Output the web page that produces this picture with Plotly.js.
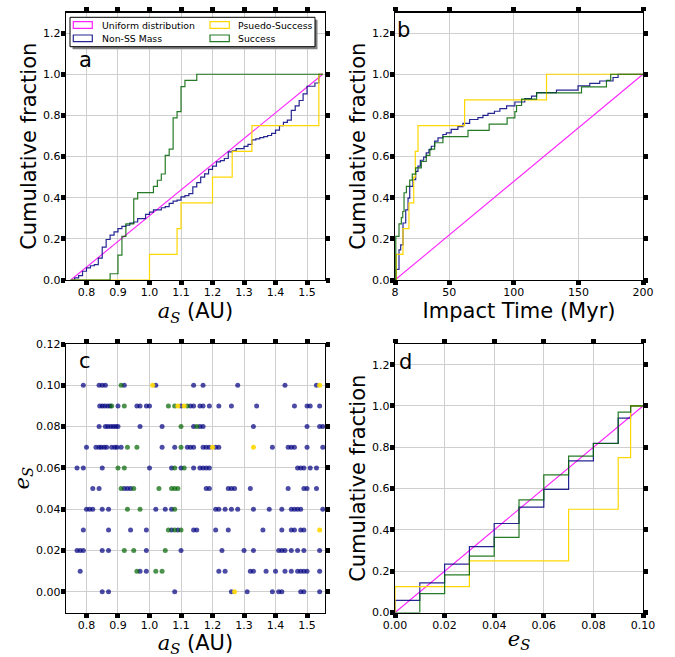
<!DOCTYPE html>
<html>
<head>
<meta charset="utf-8">
<script src="https://cdn.plot.ly/plotly-3.0.1.min.js"></script>
<style>html,body{margin:0;padding:0;background:#fff;}#chart{width:675px;height:657px;}</style>
</head>
<body>
<div id="chart"></div>
<script>
// ---------- DATA ----------
const seriesNames = ["Uniform distribution", "Non-SS Mass", "Psuedo-Success", "Success"];
const panelLabels = ["a", "b", "c", "d"];

// eccentricity rows of panel c (top to bottom)
const eLevels = [0.10, 0.09, 0.08, 0.07, 0.06, 0.05, 0.04, 0.03, 0.02, 0.01, 0.00];

// semi-major axis a_S of points in each eccentricity row
const nonssRows = [
  [0.79, 0.84, 0.85, 0.86, 0.92, 1.02, 1.14, 1.17, 1.28, 1.43, 1.53],
  [0.842, 0.85, 0.858, 0.867, 0.875, 0.90, 0.96, 0.97, 0.99, 1.00, 1.10, 1.13, 1.14, 1.16, 1.17, 1.19, 1.22, 1.26, 1.34, 1.46, 1.50, 1.51, 1.54],
  [0.84, 0.86, 0.868, 0.877, 0.885, 0.893, 0.90, 0.97, 1.04, 1.14, 1.16, 1.17, 1.33, 1.50, 1.54, 1.55],
  [0.80, 0.83, 0.84, 0.847, 0.856, 0.864, 0.88, 0.89, 0.897, 0.91, 1.04, 1.08, 1.12, 1.13, 1.14, 1.17, 1.18, 1.19, 1.21, 1.22, 1.39, 1.44, 1.45, 1.46, 1.50, 1.55],
  [0.77, 0.79, 0.85, 1.00, 1.07, 1.10, 1.14, 1.16, 1.17, 1.18, 1.19, 1.47, 1.48, 1.49, 1.51, 1.53],
  [0.82, 0.84, 0.92, 0.93, 0.94, 1.18, 1.19, 1.25, 1.26, 1.27, 1.32, 1.44, 1.49, 1.50, 1.53],
  [0.80, 0.81, 0.82, 0.85, 0.87, 1.02, 1.05, 1.07, 1.21, 1.22, 1.24, 1.26, 1.28, 1.33, 1.38, 1.42, 1.45, 1.46, 1.47, 1.48, 1.55],
  [0.79, 0.87, 0.94, 0.99, 1.07, 1.09, 1.14, 1.15, 1.21, 1.25, 1.36, 1.42, 1.45, 1.46, 1.48, 1.49],
  [0.77, 0.78, 0.79, 0.85, 0.87, 0.99, 1.10, 1.23, 1.30, 1.33, 1.41, 1.42, 1.43, 1.45, 1.47, 1.49, 1.54],
  [0.78, 0.97, 0.99, 1.22, 1.24, 1.32, 1.33, 1.37, 1.40, 1.43, 1.45, 1.47, 1.48, 1.49, 1.50, 1.54],
  [0.85, 0.87, 1.08, 1.26, 1.31, 1.39, 1.41, 1.42, 1.48, 1.49, 1.54]
];
const pseudoRows = [
  [1.01, 1.54],
  [1.09, 1.11],
  [],
  [1.20, 1.33],
  [], [], [],
  [1.54],
  [], [],
  [1.27]
];
const successRows = [
  [0.91],
  [0.88, 0.92, 1.06, 1.08, 1.12],
  [1.10, 1.15],
  [0.93, 0.96, 1.10],
  [0.90, 0.92, 1.08, 1.11],
  [0.91, 0.95, 1.03, 1.07, 1.08, 1.09],
  [0.93, 0.97, 1.08],
  [1.06, 1.08, 1.10],
  [0.92, 0.95, 1.05],
  [0.96, 1.02, 1.04],
  []
];

// panel b: cumulative fraction of impact times (Myr), read as steps
const timeNonssX = [8, 9.0, 11.1, 12.4, 14.2, 16.3, 18.1, 19.4, 21.9, 24.0, 25.8, 27.6, 30.2, 32.2, 34.3, 36.1, 38.7, 41.3, 45.1, 47.7, 51.5, 56.7, 60.6, 65.8, 72.2, 76.1, 80, 85, 89.2, 94.4, 100.8, 108.5, 113.7, 117.6, 133, 149.7, 158.8, 166.5, 176.8, 180.7, 200];
const timeNonssY = [0, 0.052, 0.146, 0.171, 0.277, 0.341, 0.398, 0.455, 0.488, 0.528, 0.553, 0.582, 0.597, 0.618, 0.634, 0.650, 0.675, 0.691, 0.707, 0.715, 0.732, 0.745, 0.761, 0.780, 0.789, 0.80, 0.81, 0.82, 0.833, 0.846, 0.865, 0.881, 0.894, 0.911, 0.923, 0.943, 0.956, 0.967, 0.984, 1.0, 1.0];
const timePseudoX = [8, 9.0, 14.2, 18.8, 22.5, 23.7, 25.8, 61.9, 125.3, 200];
const timePseudoY = [0, 0.125, 0.25, 0.375, 0.5, 0.625, 0.75, 0.875, 1.0, 1.0];
const timeSuccessX = [8, 8.6, 11.1, 12.9, 14.0, 15.0, 16.8, 19.4, 21.4, 24.0, 28.4, 32.2, 35.0, 38.7, 45.1, 64.5, 80.9, 94.8, 100.8, 102.1, 106.0, 117.6, 152.4, 171.7, 175.0, 200];
const timeSuccessY = [0, 0.212, 0.273, 0.303, 0.333, 0.424, 0.455, 0.485, 0.515, 0.545, 0.576, 0.606, 0.636, 0.667, 0.697, 0.727, 0.758, 0.788, 0.818, 0.848, 0.879, 0.909, 0.939, 0.970, 1.0, 1.0];

// uniform distributions (end points)
const uniformAX = [0.75, 1.55];
const uniformTX = [8, 200];
const uniformEX = [0.0, 0.1];
const uniformY = [0, 1];

// histogram binning used for cumulative steps
const aBins = {start: 0.75, width: 0.0125, n: 64};
const eBins = {start: 0.0, width: 0.005, n: 20};

// ---------- HELPERS ----------
function flatten(rows) {
  const a = [], e = [];
  rows.forEach((r, i) => r.forEach(v => { a.push(v); e.push(eLevels[i]); }));
  return {a, e};
}
function cumStep(values, b) {
  const counts = new Array(b.n).fill(0);
  values.forEach(v => {
    let k = Math.floor((v - b.start) / b.width + 1e-6);
    if (k < 0) k = 0; if (k >= b.n) k = b.n - 1;
    counts[k]++;
  });
  const x = [b.start], y = [0];
  let c = 0;
  for (let i = 0; i < b.n; i++) { c += counts[i]; x.push(b.start + i * b.width); y.push(c / values.length); }
  x.push(b.start + b.n * b.width); y.push(c / values.length);
  return {x, y};
}

const nonss = flatten(nonssRows), pseudo = flatten(pseudoRows), success = flatten(successRows);

const colors = {
  uniform: "#ff22ff",
  nonss: "rgba(0,0,128,0.85)",
  pseudo: "#ffd700",
  success: "rgba(0,100,0,0.85)"
};
const dotColors = {
  nonss: "rgba(0,0,128,0.7)",
  pseudo: "rgba(255,215,0,0.9)",
  success: "rgba(0,100,0,0.7)"
};
const LW = 1.2;

function line(x, y, color, xa, ya, shape, w) {
  return {type: "scatter", mode: "lines", x: x, y: y, xaxis: xa, yaxis: ya,
    line: {color: color, width: w || LW, shape: shape || "linear"}, hoverinfo: "skip", showlegend: false};
}

const traces = [];
// panel a
let s;
traces.push(line(uniformAX, uniformY, colors.uniform, "x", "y", "linear", 1.1));
s = cumStep(nonss.a, aBins); traces.push(line(s.x, s.y, colors.nonss, "x", "y", "hv"));
s = cumStep(pseudo.a, aBins); traces.push(line(s.x, s.y, colors.pseudo, "x", "y", "hv"));
s = cumStep(success.a, aBins); traces.push(line(s.x, s.y, colors.success, "x", "y", "hv"));
// panel b
traces.push(line(uniformTX, uniformY, colors.uniform, "x2", "y2", "linear", 1.1));
traces.push(line(timeNonssX, timeNonssY, colors.nonss, "x2", "y2", "hv"));
traces.push(line(timePseudoX, timePseudoY, colors.pseudo, "x2", "y2", "hv"));
traces.push(line(timeSuccessX, timeSuccessY, colors.success, "x2", "y2", "hv"));
// panel c
function dots(d, color) {
  return {type: "scatter", mode: "markers", x: d.a, y: d.e, xaxis: "x3", yaxis: "y3",
    marker: {color: color, size: 5, line: {width: 0}}, hoverinfo: "skip", showlegend: false};
}
traces.push(dots(nonss, dotColors.nonss));
traces.push(dots(success, dotColors.success));
traces.push(dots(pseudo, dotColors.pseudo));
// panel d
traces.push(line(uniformEX, uniformY, colors.uniform, "x4", "y4", "linear", 1.1));
s = cumStep(nonss.e, eBins); traces.push(line(s.x, s.y, colors.nonss, "x4", "y4", "hv"));
s = cumStep(pseudo.e, eBins); traces.push(line(s.x, s.y, colors.pseudo, "x4", "y4", "hv"));
s = cumStep(success.e, eBins); traces.push(line(s.x, s.y, colors.success, "x4", "y4", "hv"));

// ---------- LAYOUT ----------
const W = 675, H = 657;
const px = v => v / W, py = v => 1 - v / H;
const FONT = "DejaVu Sans, sans-serif";
const tickFont = {family: FONT, size: 11, color: "black"};
const titleFont = {family: FONT, size: 21, color: "black"};

function axis(extra) {
  return Object.assign({
    showline: true, linecolor: "black", linewidth: 1.2, mirror: "ticks",
    ticks: "outside", ticklen: 4, tickwidth: 5, tickcolor: "black",
    showgrid: true, gridcolor: "#cfcfcf", gridwidth: 1, zeroline: false,
    tickfont: tickFont, fixedrange: true, ticklabelstandoff: -2
  }, extra);
}
const math = (t) => '<span style="font-family:DejaVu Serif;font-style:italic">' + t + '</span>';
const aTitle = math("a") + '<sub>' + math("S") + '</sub> (AU)';
const eTitle = math("e") + '<sub>' + math("S") + '</sub>';

const xTop = [px(66), px(325)], xRight = [px(395), px(643)];
const yTop = [py(280), py(12.5)], yBot = [py(612.5), py(344)];

const layout = {
  width: W, height: H, margin: {l: 0, r: 0, t: 0, b: 0},
  paper_bgcolor: "white", plot_bgcolor: "white", showlegend: false,
  xaxis: axis({domain: xTop, anchor: "y", range: [0.735, 1.557], tick0: 0.8, dtick: 0.1, tickformat: ".1f",
    title: {text: aTitle, font: titleFont, standoff: 2}}),
  yaxis: axis({domain: yTop, anchor: "x", range: [0, 1.3], tick0: 0, dtick: 0.2, tickformat: ".1f",
    title: {text: "Cumulative fraction", font: titleFont, standoff: 0}}),
  xaxis2: axis({domain: xRight, anchor: "y2", range: [8, 200], tickvals: [8, 50, 100, 150, 200],
    title: {text: "Impact Time (Myr)", font: titleFont, standoff: 1}}),
  yaxis2: axis({domain: yTop, anchor: "x2", range: [0, 1.3], tick0: 0, dtick: 0.2, tickformat: ".1f",
    title: {text: "Cumulative fraction", font: titleFont, standoff: 0}}),
  xaxis3: axis({domain: xTop, anchor: "y3", range: [0.735, 1.557], tick0: 0.8, dtick: 0.1, tickformat: ".1f",
    title: {text: aTitle, font: titleFont, standoff: 3}}),
  yaxis3: axis({domain: yBot, anchor: "x3", range: [-0.01, 0.12], tick0: 0, dtick: 0.02, tickformat: ".2f",
    title: {text: eTitle, font: titleFont, standoff: 0}}),
  xaxis4: axis({domain: xRight, anchor: "y4", range: [0, 0.1], tick0: 0, dtick: 0.02, tickformat: ".2f",
    title: {text: eTitle, font: titleFont, standoff: 0}}),
  yaxis4: axis({domain: yBot, anchor: "x4", range: [0, 1.3], tick0: 0, dtick: 0.2, tickformat: ".1f",
    title: {text: "Cumulative fraction", font: titleFont, standoff: 0}}),
  shapes: [],
  annotations: []
};

// legend box (panel a)
const legendColors = [colors.uniform, colors.nonss, colors.pseudo, colors.success];
const legendCol = [[73.3, 92.3, 100], [73.3, 92.3, 100], [210, 229.3, 236], [210, 229.3, 236]];
const legendRow = [[21.7, 28.3, 25], [35, 41.7, 38.4], [21.7, 28.3, 25], [35, 41.7, 38.4]];
layout.shapes.push({type: "rect", xref: "paper", yref: "paper", x0: px(72.5), x1: px(317.5), y0: py(19.8), y1: py(49.2),
  fillcolor: "#808080", line: {width: 0}, layer: "above"});
layout.shapes.push({type: "rect", xref: "paper", yref: "paper", x0: px(70), x1: px(315), y0: py(17.3), y1: py(46.7),
  fillcolor: "white", line: {color: "black", width: 1}, layer: "above"});
seriesNames.forEach((name, i) => {
  layout.shapes.push({type: "rect", xref: "paper", yref: "paper",
    x0: px(legendCol[i][0]), x1: px(legendCol[i][1]), y0: py(legendRow[i][0]), y1: py(legendRow[i][1]),
    fillcolor: "rgba(0,0,0,0)", line: {color: legendColors[i], width: 1.2}, layer: "above"});
  layout.annotations.push({xref: "paper", yref: "paper", x: px(legendCol[i][2]), y: py(legendRow[i][2]),
    xanchor: "left", yanchor: "middle", text: name, showarrow: false,
    font: {family: FONT, size: 9.3, color: "black"}});
});

// panel letters
const letterPos = [[76.5, 60.4], [395, 29.7], [76.5, 360.7], [396.5, 361.7]];
panelLabels.forEach((t, i) => {
  layout.annotations.push({xref: "paper", yref: "paper", x: px(letterPos[i][0]), y: py(letterPos[i][1]),
    xanchor: "left", yanchor: "middle", text: t, showarrow: false,
    font: {family: FONT, size: 21, color: "black"}});
});

Plotly.newPlot("chart", traces, layout, {staticPlot: true, displayModeBar: false});
</script>
</body>
</html>
